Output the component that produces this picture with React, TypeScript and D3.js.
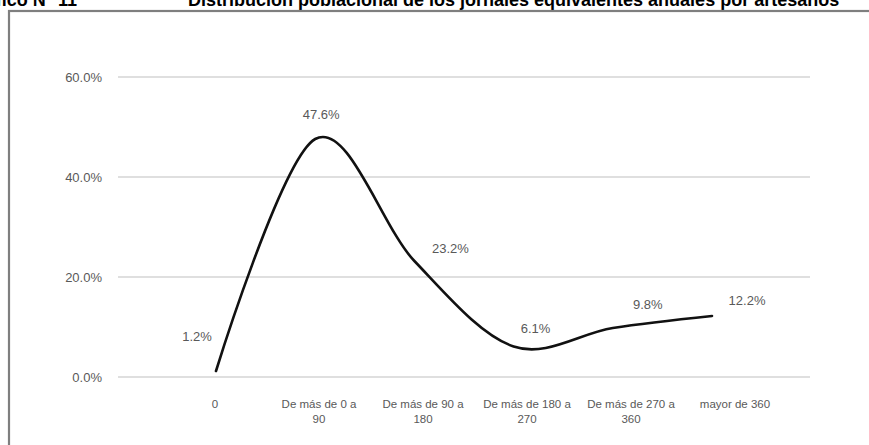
import React from "react";
import * as d3 from "d3";

const categories: string[][] = [
  ["0"],
  ["De más de 0 a", "90"],
  ["De más de 90 a", "180"],
  ["De más de 180 a", "270"],
  ["De más de 270 a", "360"],
  ["mayor de 360"],
];
const values: number[] = [1.2, 47.6, 23.2, 6.1, 9.8, 12.2];
const yTicks: number[] = [0, 20, 40, 60];
const labelDx: number[] = [-19, 6, 36, 22, 35, 35];
const labelDy: number[] = [-35, -25, -13, -18, -24, -16];

const W = 869;
const H = 445;
const FONT = "'Liberation Sans', Arial, sans-serif";

export default function App() {
  const y = d3.scaleLinear().domain([0, 60]).range([377, 77]);
  const x = d3
    .scalePoint<number>()
    .domain(d3.range(values.length))
    .range([216, 712]);
  const xl = d3
    .scalePoint<number>()
    .domain(d3.range(categories.length))
    .range([215, 735]);
  const line = d3
    .line<number>()
    .x((_, i) => x(i) as number)
    .y((d) => y(d))
    .curve(d3.curveCardinal.tension(0));

  return (
    <svg
      width={W}
      height={H}
      style={{ position: "absolute", left: 0, top: 0, background: "#fff" }}
    >
      <text
        x={77}
        y={6}
        textAnchor="end"
        fontFamily={FONT}
        fontWeight="bold"
        fontSize={18}
        fill="#000"
      >
        Gráfico N° 11
      </text>
      <text
        x={188}
        y={6}
        fontFamily={FONT}
        fontWeight="bold"
        fontSize={18}
        fill="#000"
      >
        Distribución poblacional de los jornales equivalentes anuales por artesanos
      </text>
      <rect
        x={11}
        y={13}
        width={900}
        height={500}
        fill="none"
        stroke="#e6e6e6"
        strokeWidth={3}
      />
      <rect
        x={9}
        y={11}
        width={900}
        height={500}
        fill="#fff"
        stroke="#7f7f7f"
        strokeWidth={2.2}
      />
      {yTicks.map((t) => (
        <g key={t}>
          <line
            x1={118}
            x2={810}
            y1={y(t)}
            y2={y(t)}
            stroke="#bfbfbf"
            strokeWidth={1.2}
          />
          <text
            x={102}
            y={y(t)}
            dy="0.35em"
            textAnchor="end"
            fontFamily={FONT}
            fontSize={13}
            fill="#595959"
          >
            {t.toFixed(1)}%
          </text>
        </g>
      ))}
      <path
        d={line(values) || ""}
        fill="none"
        stroke="#111"
        strokeWidth={2.6}
        strokeLinecap="round"
      />
      {values.map((v, i) => (
        <text
          key={i}
          x={(x(i) as number) + labelDx[i]}
          y={y(v) + labelDy[i]}
          dy="0.35em"
          textAnchor="middle"
          fontFamily={FONT}
          fontSize={13}
          fill="#595959"
        >
          {v.toFixed(1)}%
        </text>
      ))}
      {categories.map((lines, i) => (
        <text
          key={i}
          x={xl(i) as number}
          y={408}
          textAnchor="middle"
          fontFamily={FONT}
          fontSize={11.5}
          fill="#595959"
        >
          {lines.map((l, j) => (
            <tspan key={j} x={xl(i) as number} dy={j === 0 ? 0 : 15}>
              {l}
            </tspan>
          ))}
        </text>
      ))}
    </svg>
  );
}
